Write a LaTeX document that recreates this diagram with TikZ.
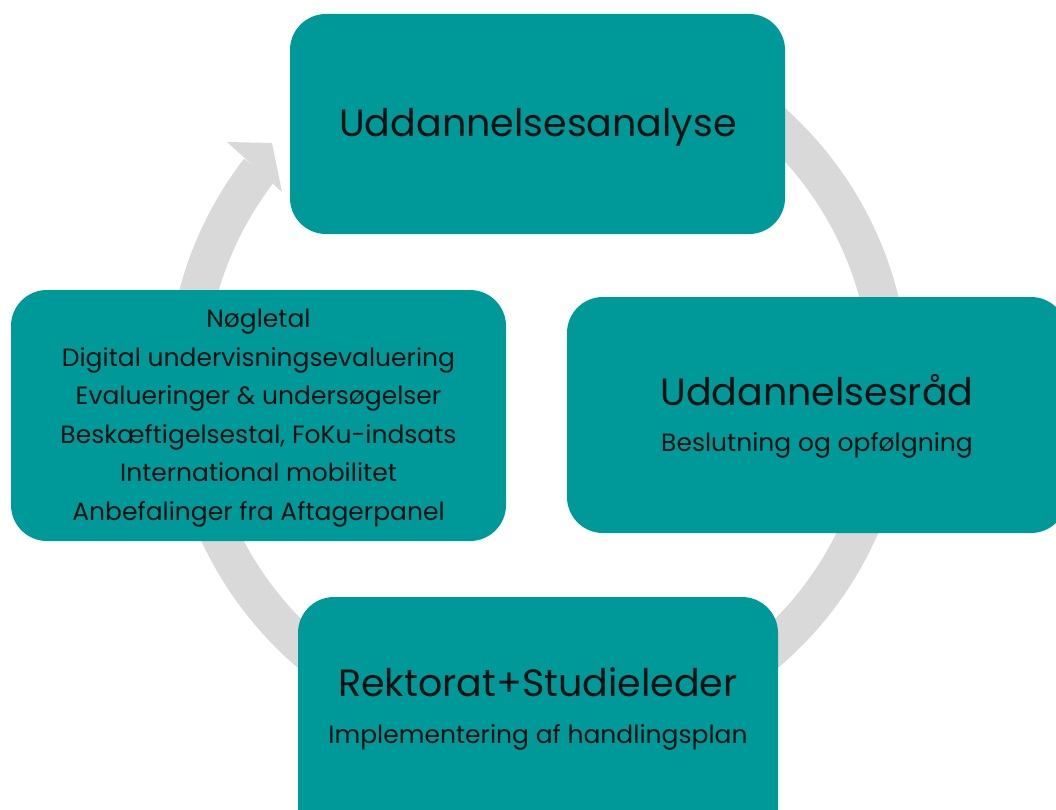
\documentclass[tikz,border=0pt]{standalone}
\usepackage{fontspec}
\setmainfont{Poppins}
\definecolor{tealbox}{RGB}{0,153,153}
\definecolor{ringgray}{RGB}{217,217,217}
\definecolor{txt}{RGB}{17,17,17}
\begin{document}
\begin{tikzpicture}[x=1pt,y=-1pt,
  box/.style={fill=tealbox, draw=none, rounded corners=36pt, inner sep=0pt},
  ttl/.style={text=txt, font=\fontsize{38}{44}\selectfont, inner sep=0pt, anchor=base},
  subt/.style={text=txt, font=\fontsize{25}{30}\selectfont, inner sep=0pt, anchor=base}]
\useasboundingbox (0,0) rectangle (1056,810);
\clip (0,0) rectangle (1056,810);
\fill[white] (0,0) rectangle (1056,810);
% ring
\draw[ringgray, line width=38pt] (538,385) ++(-130:352) arc[start angle=-130, end angle=217.6, radius=352];
\fill[ringgray] (227,142) -- (272,143) -- (282,192) -- cycle;
% boxes
\node[box, minimum width=495pt, minimum height=220pt] (analyse) at (537.5,124) {};
\node[box, minimum width=500pt, minimum height=236pt] (raad) at (817,415) {};
\node[box, minimum width=480pt, minimum height=263pt] (rektorat) at (538,728.5) {};
\node[box, minimum width=495pt, minimum height=251pt] (data) at (258.5,415.5) {};
% texts
\node[ttl] (t1) at (538,136.7) {Uddannelsesanalyse};
\node[ttl] (t2) at (817,405) {Uddannelsesråd};
\node[subt] (s2) at (817,451.5) {Beslutning og opfølgning};
\node[ttl] (t3) at (538,696.7) {Rektorat+Studieleder};
\node[subt] (s3) at (538,743.5) {Implementering af handlingsplan};
\foreach \txtline [count=\i from 0] in {Nøgletal,Digital undervisningsevaluering,Evalueringer \& undersøgelser,{Beskæftigelsestal, FoKu-indsats},International mobilitet,Anbefalinger fra Aftagerpanel}
  \node[subt] (l\i) at (258.5,327.5+38.6*\i) {\txtline};
\end{tikzpicture}
\end{document}
